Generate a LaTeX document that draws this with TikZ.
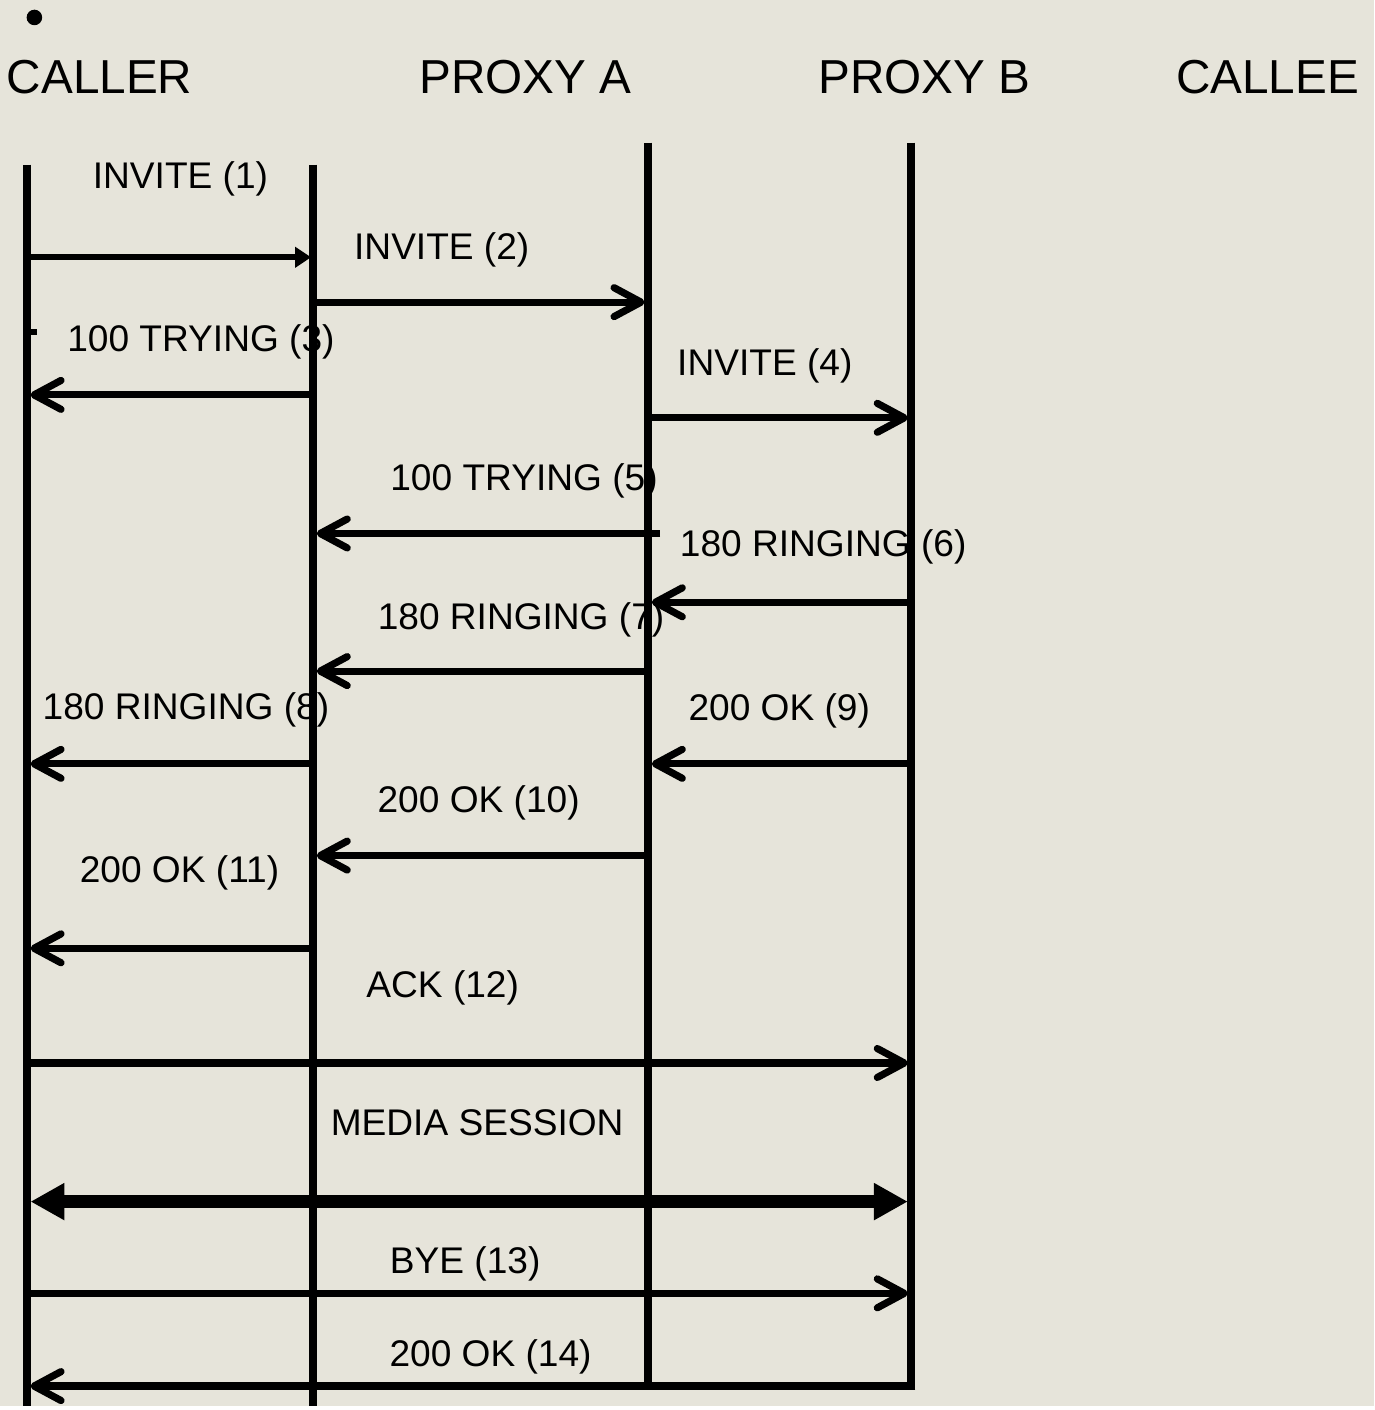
\documentclass[tikz,border=0pt]{standalone}
\usepackage{fontspec}
\setmainfont{Liberation Sans}
\usetikzlibrary{arrows.meta}
\definecolor{paper}{RGB}{230,228,218}

\begin{document}
\begin{tikzpicture}[x=0.5pt,y=-0.5pt,
    life/.style={line width=4pt},
    msg/.style={line width=3.6pt,shorten >=1.8pt,%
      -{Straight Barb[length=13.5pt,width=14.5pt,line cap=round,line join=round]}},
    lbl/.style={anchor=base,inner sep=0pt,font=\fontsize{18.6}{22}\selectfont},
    head/.style={anchor=base,inner sep=0pt,font=\fontsize{23.9}{28}\selectfont}]
  \fill[paper] (0,0) rectangle (1378,1410);
  \fill (34.5,17.5) circle (3.9pt);
  \fill (31,330) rectangle (37,336);
  % headings
  \node[head] (caller) at (100,94) {CALLER};
  \node[head] (proxya) at (527,94) {PROXY A};
  \node[head] (proxyb) at (927,94) {PROXY B};
  \node[head] (callee) at (1271,94) {CALLEE};
  % message labels
  \foreach \x/\y/\t [count=\i] in {181/189/INVITE (1), 443/260/INVITE (2),
      201.5/352/100 TRYING (3), 767/377/INVITE (4), 525.5/492/100 TRYING (5),
      825.5/558/180 RINGING (6), 522.5/631/180 RINGING (7),
      186.5/722/180 RINGING (8), 781.5/723/200 OK (9), 480/815/200 OK (10),
      180/885/200 OK (11), 444/1000/ACK (12), 478.5/1139/MEDIA SESSION,
      466.5/1277/BYE (13), 492/1370/200 OK (14)}
    \node[lbl] (m\i) at (\x,\y) {\t};
  % lifelines
  \coordinate (l1) at (27,165);
  \coordinate (l2) at (314,165);
  \coordinate (l3) at (650,143);
  \coordinate (l4) at (914,143);
  \coordinate (l4foot) at (918,1390);
  \draw[life] (l1) -- (l1 |- 0,1410);
  \draw[life] (l2) -- (l2 |- 0,1410);
  \draw[life] (l3) -- (l3 |- 0,1390);
  \draw[life] (l4) -- (l4 |- 0,1393.8);
  % messages
  \draw[line width=3pt,shorten >=1pt,-{Triangle[length=8pt,width=10pt]}]
    (l1 |- 0,258) -- (l2 |- 0,258);
  \foreach \y/\a/\b in {303/l2/l3, 396/l2/l1, 419/l3/l4, 604/l4/l3, 673/l3/l2,
      766/l2/l1, 766/l4/l3, 858/l3/l2, 951/l2/l1, 1066/l1/l4, 1297/l1/l4}
    \draw[msg] (\a |- 0,\y) -- (\b |- 0,\y);
  \draw[msg] ([xshift=6pt]l3 |- 0,535) -- (l2 |- 0,535);
  \draw[msg] (l4foot) -- (l1 |- l4foot);
  \draw[line width=6.2pt,shorten <=1.8pt,shorten >=1.8pt,%
      {Triangle[length=17pt,width=17.5pt]}-{Triangle[length=17pt,width=17.5pt]}]
    (l1 |- 0,1205) -- (l4 |- 0,1205);
\end{tikzpicture}
\end{document}
